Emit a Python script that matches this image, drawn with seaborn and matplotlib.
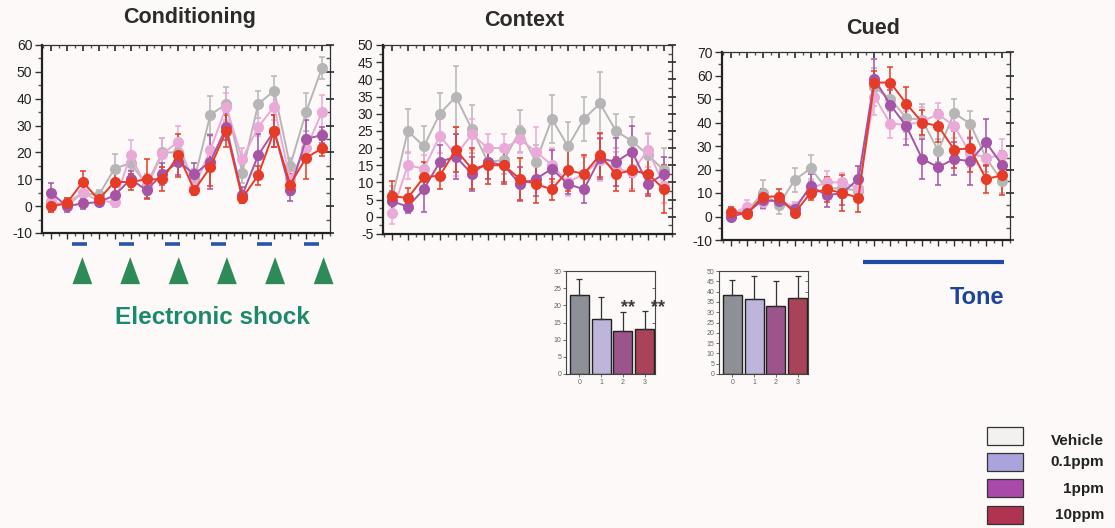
import numpy as np
import pandas as pd
import seaborn as sns
import matplotlib.pyplot as plt
from matplotlib.patches import Rectangle, Polygon
from matplotlib.ticker import MultipleLocator
import matplotlib.transforms as mtransforms

# ---- data ---------------------------------------------------------------
groups = ['Vehicle', '0.1ppm', '1ppm', '10ppm']
trials = list(range(18))

cond_mean = {
    'Vehicle': [1, 1, 5, 4, 14, 16, 8, 20, 20, 10, 34, 38, 12.5, 38, 43, 15, 35, 51.5],
    '0.1ppm':  [2, 0, 5, 2, 1.5, 19, 7, 19.5, 24, 7, 21, 37, 17.5, 29.5, 37, 10, 21.5, 35],
    '1ppm':    [5, 0, 1, 1.5, 4, 10, 6, 12, 16.5, 12, 16.5, 29.5, 4, 19, 28, 6, 25, 26.5],
    '10ppm':   [0, 1, 9, 2.5, 9, 9, 10, 10, 19, 6, 14.5, 28, 3, 11.5, 28, 8, 18, 21.5],
}
cond_err = {
    'Vehicle': [3, 2, 3, 2, 5.5, 4, 4, 5.5, 5, 4, 7, 6.5, 4, 5, 5.5, 3, 7, 4],
    '0.1ppm':  [3, 2, 3, 2, 2, 5.5, 3, 6, 6, 3, 5, 5, 4, 3.5, 5, 3, 5, 6.5],
    '1ppm':    [3.5, 2, 2, 1.5, 3, 3, 3, 4, 5, 4, 10, 5, 3, 8, 6, 4, 7, 3],
    '10ppm':   [2, 2, 4, 2, 5.5, 3, 7.5, 4.5, 8, 2, 7, 6, 2, 3.5, 6, 4, 8, 3],
}

ctx_mean = {
    'Vehicle': [5, 25, 20.5, 30, 35, 25.5, 16, 16.5, 25, 16, 28.5, 20.5, 28.5, 33, 25, 22, 18, 13.5],
    '0.1ppm':  [1, 15, 14, 23.5, 18, 24, 20, 20, 22.5, 19, 15, 10, 12.5, 16.5, 14, 13, 19.5, 9],
    '1ppm':    [4.5, 3, 8, 16, 17.5, 12.5, 16, 15, 9.5, 11, 14, 9.5, 8, 17, 16, 19, 9.5, 12.5],
    '10ppm':   [6, 5.5, 11.5, 12, 19.5, 14, 15, 15, 11, 9.5, 8, 13.5, 12.5, 18, 12.5, 13.5, 12.5, 8],
}
ctx_err = {
    'Vehicle': [4, 6.5, 6, 6, 9, 7, 5, 4, 6, 5, 7, 7, 6.5, 9, 5, 7, 6, 6.5],
    '0.1ppm':  [3, 4, 4, 5, 6, 4.5, 4, 4, 4, 7, 5, 4, 5, 6, 5, 5, 5, 5],
    '1ppm':    [3, 2, 6.5, 5, 6.5, 5, 5, 5, 5, 5, 5.5, 3, 4, 6, 7, 7.5, 3, 5],
    '10ppm':   [4.5, 3, 4.5, 4, 6.5, 6, 5.5, 5.5, 6, 5.5, 3, 6, 5.5, 6.5, 5, 6, 6.5, 7],
}

cued_mean = {
    'Vehicle': [2, 2, 10, 5, 15.5, 20.5, 12, 12, 11, 55, 50, 42, 41, 28, 44, 39.5, 25, 15],
    '0.1ppm':  [1, 4, 6, 7, 4, 12, 14.5, 14.5, 12, 51, 39.5, 39, 40.5, 43.5, 38.5, 27, 25, 26],
    '1ppm':    [0, 1.5, 7, 6.5, 3, 13, 9, 10, 16, 58.5, 47.5, 38.5, 24.5, 21, 24.5, 23.5, 31.5, 22],
    '10ppm':   [2, 1, 8.5, 8.5, 1.5, 10, 11.5, 10, 8, 57, 57, 48, 40, 38.5, 28.5, 29, 16, 17.5],
}
cued_err = {
    'Vehicle': [2, 2, 5.5, 4, 5, 5.5, 4, 4, 5, 8, 5, 6, 7, 5, 6, 5.5, 6, 5],
    '0.1ppm':  [2, 3, 3, 3, 2, 4, 5, 4, 5, 8, 6, 6, 6, 5, 5, 6, 8, 7],
    '1ppm':    [1, 1.5, 3.5, 3, 2, 5, 5, 5, 5.5, 8.5, 6.5, 8, 8.5, 7.5, 7, 10, 10, 6],
    '10ppm':   [2, 1.5, 3, 3, 1.5, 3, 5.5, 7.5, 6, 5, 6.5, 7, 5.5, 7, 8, 10, 6, 8.5],
}

# summary bars (context / cued totals)
bar_labels = ['0', '1', '2', '3']
ctx_bar = [23, 16, 12.5, 13]
ctx_bar_err = [4.8, 6.4, 5.5, 5.4]
cued_bar = [38.5, 36.3, 33, 37]
cued_bar_err = [7, 11.5, 12, 10.5]

line_colors = ['#b6b6b6', '#eaaad8', '#a554a6', '#e63b27']
bar_colors = ['#8b9199', '#b9afe0', '#a64a91', '#b9324f']
legend_colors = ['#f3f1ef', '#aba4dc', '#a94aaa', '#b13352']

bg = '#fcf9f8'
sns.set_theme(style='ticks')
plt.rcParams['font.family'] = ['Liberation Sans', 'DejaVu Sans']
plt.rcParams['axes.unicode_minus'] = False

fig = plt.figure(figsize=(11.15, 5.28), dpi=100, facecolor=bg)
W, H = 1115, 528


def px_axes(l, t, r, b):
    return fig.add_axes([l / W, 1 - b / H, (r - l) / W, (b - t) / H])


def line_panel(ax, means, errs, ylim, ystep, title, title_xy):
    rows = []
    for g in groups:
        for t, v in zip(trials, means[g]):
            rows.append({'trial': t, 'value': v, 'group': g})
    df = pd.DataFrame(rows)
    for g, c in zip(groups, line_colors):
        ax.errorbar(trials, means[g], yerr=errs[g], fmt='none', ecolor=c,
                    elinewidth=1.1, capsize=2.5, capthick=1.1, zorder=1)
    sns.lineplot(data=df, x='trial', y='value', hue='group', hue_order=groups,
                 palette=line_colors, marker='o', markersize=8, markeredgewidth=0,
                 linewidth=1.4, legend=False, ax=ax, zorder=2)
    ax.set_facecolor(bg)
    ax.set_xlim(-0.55, 17.5)
    ax.set_ylim(*ylim)
    ax.yaxis.set_major_locator(MultipleLocator(ystep))
    ax.yaxis.set_minor_locator(MultipleLocator(ystep / 2))
    ax.xaxis.set_major_locator(MultipleLocator(1))
    ax.xaxis.set_minor_locator(MultipleLocator(0.5))
    ax.set_xlabel('')
    ax.set_ylabel('')
    ax.tick_params(axis='x', labelbottom=False, direction='out', length=4, width=1, color='#333')
    ax.tick_params(axis='x', which='minor', length=2.5, color='#555')
    ax.tick_params(axis='y', direction='out', length=5, width=1, pad=2,
                   labelsize=10, labelcolor='#222', color='#333')
    ax.tick_params(axis='y', which='minor', length=3, color='#555')
    for s in ['left', 'bottom']:
        ax.spines[s].set_linewidth(1.6)
        ax.spines[s].set_color('#222')
    for s in ['top', 'right']:
        ax.spines[s].set_visible(True)
        ax.spines[s].set_linewidth(0.9)
        ax.spines[s].set_color('#333')
    top = ax.secondary_xaxis('top')
    top.xaxis.set_major_locator(MultipleLocator(1))
    top.xaxis.set_minor_locator(MultipleLocator(0.5))
    top.tick_params(direction='in', length=4, labeltop=False, color='#333')
    top.tick_params(which='minor', direction='in', length=2.5, color='#555')
    top.spines['top'].set_visible(False)
    right = ax.secondary_yaxis('right')
    right.yaxis.set_major_locator(MultipleLocator(ystep))
    right.yaxis.set_minor_locator(MultipleLocator(ystep / 2))
    right.tick_params(direction='inout', length=6, labelright=False, color='#333')
    right.tick_params(which='minor', direction='in', length=3, color='#555')
    right.spines['right'].set_visible(False)
    fig.text(title_xy[0] / W, 1 - title_xy[1] / H, title, ha='center', va='center',
             fontsize=15.5, fontweight='bold', color='#2b2b2b')


ax1 = px_axes(42, 45, 330, 233)
line_panel(ax1, cond_mean, cond_err, (-10, 60), 10, 'Conditioning', (190, 18))
ax2 = px_axes(383, 45, 672, 234)
line_panel(ax2, ctx_mean, ctx_err, (-5, 50), 5, 'Context', (524, 21))
ax3 = px_axes(722, 52, 1010, 240)
line_panel(ax3, cued_mean, cued_err, (-10, 70), 10, 'Cued', (873, 28))

# shock markers under the conditioning panel
dash_x = [1.81, 4.73, 7.64, 10.52, 13.42, 16.36]
shock_x = [1.98, 4.98, 8.02, 11.04, 14.06, 17.1]
tr1 = mtransforms.blended_transform_factory(ax1.transData, ax1.transAxes)
for dx in dash_x:
    ax1.plot([dx - 0.47, dx + 0.47], [-0.058, -0.058], color='#2a54a8', lw=2.6,
             solid_capstyle='butt', transform=tr1, clip_on=False)
for sx in shock_x:
    ax1.add_patch(Polygon([[sx - 0.62, -0.272], [sx + 0.62, -0.272], [sx, -0.128]],
                          closed=True, facecolor='#2e8b57', edgecolor='none',
                          transform=tr1, clip_on=False))
fig.text(212 / W, 1 - 318 / H, 'Electronic shock', ha='center', va='center',
         fontsize=17.5, fontweight='bold', color='#1b8a6b')

# tone bar under the cued panel
tr3 = mtransforms.blended_transform_factory(ax3.transData, ax3.transAxes)
ax3.plot([8.3, 17.1], [-0.117, -0.117], color='#2149a6', lw=3, solid_capstyle='butt',
         transform=tr3, clip_on=False)
fig.text(977 / W, 1 - 297 / H, 'Tone', ha='center', va='center',
         fontsize=17, fontweight='bold', color='#1d4499')


# small summary bar charts
def bar_panel(ax, vals, errs, ymax):
    dfb = pd.DataFrame({'dose': bar_labels, 'value': vals})
    sns.barplot(data=dfb, x='dose', y='value', hue='dose', palette=bar_colors,
                width=0.88, edgecolor='#222', linewidth=1, errorbar=None,
                legend=False, ax=ax)
    ax.errorbar(range(4), vals, yerr=[[0] * 4, errs], fmt='none', ecolor='#333',
                elinewidth=0.9, capsize=2, capthick=0.9)
    ax.set_facecolor(bg)
    ax.set_xlim(-0.62, 3.48)
    ax.set_ylim(0, ymax)
    ax.yaxis.set_major_locator(MultipleLocator(5))
    ax.set_xlabel('')
    ax.set_ylabel('')
    ax.tick_params(labelsize=5, labelcolor='#666', length=2, width=0.6, pad=1.5, color='#555')
    for s in ['left', 'bottom', 'top', 'right']:
        ax.spines[s].set_visible(True)
        ax.spines[s].set_linewidth(0.8)
        ax.spines[s].set_color('#444')
    rr = ax.secondary_yaxis('right')
    rr.yaxis.set_major_locator(MultipleLocator(5))
    rr.tick_params(direction='in', length=2, labelright=False, width=0.6, color='#555')
    rr.spines['right'].set_visible(False)


bx1 = px_axes(566, 271, 655, 374)
bar_panel(bx1, ctx_bar, ctx_bar_err, 30)
bx1.text(2.22, 19.3, '**', ha='center', va='center', fontsize=13, fontweight='bold',
         color='#3a3a3a', clip_on=False)
bx1.text(3.6, 19.3, '**', ha='center', va='center', fontsize=13, fontweight='bold',
         color='#3a3a3a', clip_on=False)
bx2 = px_axes(719, 271, 808, 374)
bar_panel(bx2, cued_bar, cued_bar_err, 50)

# legend boxes
box_tops = [427, 453, 479, 506]
text_y = [441, 462, 489, 515]
for g, c, bt, ty in zip(groups, legend_colors, box_tops, text_y):
    fig.patches.append(Rectangle((987 / W, 1 - (bt + 18) / H), 36 / W, 18 / H,
                                 transform=fig.transFigure, facecolor=c,
                                 edgecolor='#333', linewidth=0.9))
    fig.text(1104 / W, 1 - ty / H, g, ha='right', va='center', fontsize=11,
             fontweight='bold', color='#222')

fig.savefig('out.png', dpi=100, facecolor=bg)
